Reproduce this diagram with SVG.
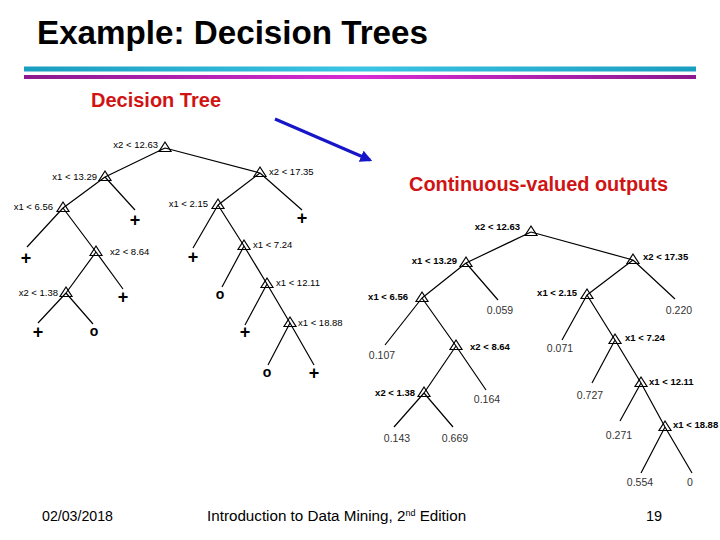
<svg xmlns="http://www.w3.org/2000/svg" xmlns:xlink="http://www.w3.org/1999/xlink" width="720" height="540" viewBox="0 0 720 540">
<defs>
<linearGradient id="gCyan" x1="0" y1="0" x2="1" y2="0">
<stop offset="0" stop-color="#1a9ec0"/><stop offset="0.5" stop-color="#3cc4e4"/><stop offset="1" stop-color="#1a9ec0"/>
</linearGradient>
<linearGradient id="gMag" x1="0" y1="0" x2="1" y2="0">
<stop offset="0" stop-color="#8a1a8e"/><stop offset="0.5" stop-color="#d82cd4"/><stop offset="1" stop-color="#8a1a8e"/>
</linearGradient>
<marker id="arrowBlue" viewBox="0 0 10 10" refX="8" refY="5" markerWidth="4" markerHeight="4" orient="auto" markerUnits="strokeWidth">
<path d="M0,0 L10,5 L0,10 Z" fill="#1616c8"/>
</marker>
<path id="tri" d="M0,-6 L6,3.5 L-6,3.5 Z" fill="none" stroke="#000" stroke-width="1.2"/>
</defs>
<style>
.title{font-family:"Liberation Sans",Arial,sans-serif;font-weight:bold;font-size:33px;fill:#000}
.red{font-family:"Liberation Sans",Arial,sans-serif;font-weight:bold;fill:#d01414}
.lbl{font-family:"Liberation Sans",Arial,sans-serif;font-size:9.5px;fill:#000}
.lblb{font-family:"Liberation Sans",Arial,sans-serif;font-size:9.5px;font-weight:bold;fill:#000}
.val{font-family:"Liberation Sans",Arial,sans-serif;font-size:10.5px;fill:#333;text-anchor:middle}
.mk{font-family:"Liberation Sans",Arial,sans-serif;font-weight:bold;fill:#000;text-anchor:middle}
.plus{font-size:18px}
.oo{font-size:14px}
.foot{font-family:"Liberation Sans",Arial,sans-serif;font-size:14.5px;fill:#000}
.foot2{font-family:"Liberation Sans",Arial,sans-serif;font-size:15.2px;fill:#000}
.sup{font-size:9px}
.edge{stroke:#000;stroke-width:1.2;fill:none}
.L{text-anchor:end}
</style>
<rect width="720" height="540" fill="#fff"/>

<text class="title" x="37" y="44" textLength="391" lengthAdjust="spacingAndGlyphs">Example: Decision Trees</text>
<rect x="24" y="66.5" width="672" height="5" fill="url(#gCyan)"/>
<rect x="24" y="75" width="672" height="4" fill="url(#gMag)"/>
<text class="red" x="91" y="107" font-size="19.5" textLength="130" lengthAdjust="spacingAndGlyphs">Decision Tree</text>
<text class="red" x="409" y="191" font-size="19.5" textLength="259" lengthAdjust="spacingAndGlyphs">Continuous-valued outputs</text>

<g id="connectors">
<line x1="275" y1="119" x2="370" y2="160" stroke="#1616c8" stroke-width="3" marker-end="url(#arrowBlue)"/>
<!-- left tree -->
<path class="edge" d="M165,148 L105,177 M165,148 L260,173 M105,177 L63,208 M105,177 L135,210 M63,208 L27,247 M63,208 L96,252 M96,252 L66,293 M96,252 L123,289 M66,293 L38,323 M66,293 L93,324 M260,173 L218,205 M260,173 L302,210 M218,205 L193,248 M218,205 L244,246 M244,246 L222,287 M244,246 L267,284 M267,284 L245,325 M267,284 L290,323 M290,323 L268,365 M290,323 L314,365"/>
<!-- right tree -->
<path class="edge" d="M531,232 L466,263 M531,232 L633,260 M466,263 L422,298 M466,263 L498,300 M422,298 L385,345 M422,298 L456,346 M456,346 L424,393 M456,346 L486,390 M424,393 L394,427 M424,393 L453,427 M633,260 L587,295 M633,260 L675,299 M587,295 L562,340 M587,295 L615,340 M615,340 L592,383 M615,340 L641,383 M641,383 L620,421 M641,383 L665,427 M665,427 L641,473 M665,427 L692,473"/>
</g>

<!-- left tree nodes -->
<g id="L_root"><use xlink:href="#tri" x="165" y="148"/><text class="lbl L" x="158" y="148">x2 &lt; 12.63</text></g>
<g id="L_n1"><use xlink:href="#tri" x="105" y="177"/><text class="lbl L" x="97" y="180">x1 &lt; 13.29</text></g>
<g id="L_n2"><use xlink:href="#tri" x="63" y="208"/><text class="lbl L" x="53" y="210">x1 &lt; 6.56</text></g>
<g id="L_n3"><use xlink:href="#tri" x="96" y="252"/><text class="lbl" x="110" y="255">x2 &lt; 8.64</text></g>
<g id="L_n4"><use xlink:href="#tri" x="66" y="293"/><text class="lbl L" x="58" y="296">x2 &lt; 1.38</text></g>
<g id="L_n5"><use xlink:href="#tri" x="260" y="173"/><text class="lbl" x="269" y="175">x2 &lt; 17.35</text></g>
<g id="L_n6"><use xlink:href="#tri" x="218" y="205"/><text class="lbl L" x="208" y="207">x1 &lt; 2.15</text></g>
<g id="L_n7"><use xlink:href="#tri" x="244" y="246"/><text class="lbl" x="253" y="248">x1 &lt; 7.24</text></g>
<g id="L_n8"><use xlink:href="#tri" x="267" y="284"/><text class="lbl" x="276" y="286">x1 &lt; 12.11</text></g>
<g id="L_n9"><use xlink:href="#tri" x="290" y="323"/><text class="lbl" x="298" y="326">x1 &lt; 18.88</text></g>

<g id="L_leaves">
<text class="mk plus" x="135" y="226">+</text>
<text class="mk plus" x="26" y="264">+</text>
<text class="mk plus" x="123" y="303">+</text>
<text class="mk plus" x="38" y="338">+</text>
<text class="mk oo" x="94" y="336">o</text>
<text class="mk plus" x="302" y="224">+</text>
<text class="mk plus" x="193" y="263">+</text>
<text class="mk oo" x="220" y="299">o</text>
<text class="mk plus" x="245" y="338">+</text>
<text class="mk oo" x="267" y="377">o</text>
<text class="mk plus" x="314" y="379">+</text>
</g>

<!-- right tree nodes -->
<g id="R_root"><use xlink:href="#tri" x="531" y="232"/><text class="lblb L" x="520" y="230">x2 &lt; 12.63</text></g>
<g id="R_n1"><use xlink:href="#tri" x="466" y="263"/><text class="lblb L" x="457" y="264">x1 &lt; 13.29</text></g>
<g id="R_n2"><use xlink:href="#tri" x="422" y="298"/><text class="lblb L" x="408" y="300">x1 &lt; 6.56</text></g>
<g id="R_n3"><use xlink:href="#tri" x="456" y="346"/><text class="lblb" x="470" y="350">x2 &lt; 8.64</text></g>
<g id="R_n4"><use xlink:href="#tri" x="424" y="393"/><text class="lblb L" x="415" y="396">x2 &lt; 1.38</text></g>
<g id="R_n5"><use xlink:href="#tri" x="633" y="260"/><text class="lblb" x="643" y="260">x2 &lt; 17.35</text></g>
<g id="R_n6"><use xlink:href="#tri" x="587" y="295"/><text class="lblb L" x="577" y="296">x1 &lt; 2.15</text></g>
<g id="R_n7"><use xlink:href="#tri" x="615" y="340"/><text class="lblb" x="625" y="341">x1 &lt; 7.24</text></g>
<g id="R_n8"><use xlink:href="#tri" x="641" y="383"/><text class="lblb" x="649" y="385">x1 &lt; 12.11</text></g>
<g id="R_n9"><use xlink:href="#tri" x="665" y="427"/><text class="lblb" x="673" y="428">x1 &lt; 18.88</text></g>

<g id="R_leaves">
<text class="val" x="500" y="314">0.059</text>
<text class="val" x="382" y="359">0.107</text>
<text class="val" x="487" y="403">0.164</text>
<text class="val" x="397" y="442">0.143</text>
<text class="val" x="455" y="442">0.669</text>
<text class="val" x="679" y="314">0.220</text>
<text class="val" x="560" y="352">0.071</text>
<text class="val" x="590" y="399">0.727</text>
<text class="val" x="619" y="439">0.271</text>
<text class="val" x="640" y="486">0.554</text>
<text class="val" x="690" y="486">0</text>
</g>

<g id="footer">
<text class="foot" x="42" y="521" textLength="71" lengthAdjust="spacingAndGlyphs">02/03/2018</text>
<text class="foot2" x="207" y="521">Introduction to Data Mining, 2<tspan class="sup" dy="-5">nd</tspan><tspan dy="5"> Edition</tspan></text>
<text class="foot" x="646" y="521">19</text>
</g>
</svg>
